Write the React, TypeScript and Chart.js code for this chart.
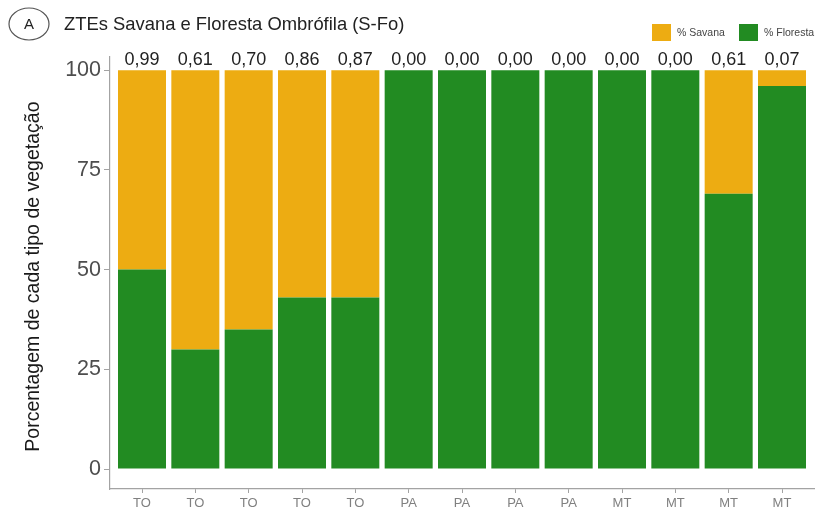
import React, { useEffect, useRef } from "react";
import { Chart, registerables } from "chart.js";

Chart.register(...registerables);

const FONT = "'Liberation Sans', Arial, Helvetica, sans-serif";

// Estados de cada ZTE
const categories = ["TO", "TO", "TO", "TO", "TO", "PA", "PA", "PA", "PA", "MT", "MT", "MT", "MT"];
// % Floresta (base da pilha)
const floresta = [50, 30, 35, 43, 43, 100, 100, 100, 100, 100, 100, 69, 96];
// % Savana (topo da pilha)
const savana = [50, 70, 65, 57, 57, 0, 0, 0, 0, 0, 0, 31, 4];
// Valores anotados sobre cada barra
const rotulos = ["0,99", "0,61", "0,70", "0,86", "0,87", "0,00", "0,00", "0,00", "0,00", "0,00", "0,00", "0,61", "0,07"];
const yTicks = [0, 25, 50, 75, 100];

const COR_SAVANA = "#EDAC12";
const COR_FLORESTA = "#228B22";
const COR_EIXO = "#a3a3a3";

const decoracoes = {
  id: "decoracoes",
  afterDraw(chart: any) {
    const ctx = chart.ctx as CanvasRenderingContext2D;
    const xs = chart.scales.x;
    const ys = chart.scales.y;
    ctx.save();

    // painel "A"
    ctx.beginPath();
    ctx.ellipse(29, 24, 20, 16, 0, 0, Math.PI * 2);
    ctx.strokeStyle = "#555";
    ctx.lineWidth = 1.2;
    ctx.stroke();
    ctx.fillStyle = "#222";
    ctx.font = `15px ${FONT}`;
    ctx.textAlign = "center";
    ctx.textBaseline = "middle";
    ctx.fillText("A", 29, 25);

    // título
    ctx.textAlign = "left";
    ctx.font = `18.4px ${FONT}`;
    ctx.fillText("ZTEs Savana e Floresta Ombrófila (S-Fo)", 64, 25);

    // legenda
    const legenda = [
      { cor: COR_SAVANA, texto: "% Savana", x: 652 },
      { cor: COR_FLORESTA, texto: "% Floresta", x: 739 },
    ];
    ctx.font = `10.5px ${FONT}`;
    for (const item of legenda) {
      ctx.fillStyle = item.cor;
      ctx.fillRect(item.x, 24, 19, 17);
      ctx.fillStyle = "#444";
      ctx.fillText(item.texto, item.x + 25, 33);
    }

    // rótulos sobre as barras
    ctx.textAlign = "center";
    ctx.font = `18px ${FONT}`;
    ctx.fillStyle = "#222";
    const yTopo = ys.getPixelForValue(100) - 10;
    rotulos.forEach((r, i) => {
      ctx.fillText(r, xs.getPixelForValue(i), yTopo);
    });

    // título do eixo y
    ctx.translate(34, (ys.getPixelForValue(0) + ys.getPixelForValue(100)) / 2 + 7);
    ctx.rotate(-Math.PI / 2);
    ctx.font = `19.5px ${FONT}`;
    ctx.fillStyle = "#1a1a1a";
    ctx.fillText("Porcentagem de cada tipo de vegetação", 0, 0);
    ctx.restore();
  },
};

export default function App() {
  const ref = useRef<HTMLCanvasElement>(null);

  useEffect(() => {
    if (!ref.current) return;
    const chart = new Chart(ref.current, {
      type: "bar",
      data: {
        datasets: [
          {
            label: "% Floresta",
            data: floresta.map((v, i) => ({ x: i, y: v })),
            backgroundColor: COR_FLORESTA,
            borderWidth: 0,
          },
          {
            label: "% Savana",
            data: savana.map((v, i) => ({ x: i, y: v })),
            backgroundColor: COR_SAVANA,
            borderWidth: 0,
          },
        ],
      },
      options: {
        animation: false,
        responsive: false,
        devicePixelRatio: 1,
        datasets: { bar: { barPercentage: 0.9, categoryPercentage: 1 } },
        layout: { padding: { top: 57, right: 5, left: 0, bottom: 0 } },
        plugins: { legend: { display: false }, tooltip: { enabled: false }, title: { display: false } },
        scales: {
          x: {
            type: "linear",
            stacked: true,
            min: -0.6,
            max: 12.6,
            offset: false,
            afterBuildTicks: (s: any) => {
              s.ticks = categories.map((_, i) => ({ value: i }));
            },
            afterFit: (s: any) => {
              s.height = 26;
            },
            ticks: {
              autoSkip: false,
              maxRotation: 0,
              padding: 3,
              color: "#808080",
              font: { family: FONT, size: 13 },
              callback: (v: any) => categories[Math.round(Number(v))] ?? "",
            },
            grid: { offset: false, drawOnChartArea: false, drawTicks: true, tickLength: 4, color: COR_EIXO },
            border: { display: true, color: COR_EIXO, width: 1.2 },
          },
          y: {
            type: "linear",
            stacked: true,
            min: -5,
            max: 103.3,
            afterBuildTicks: (s: any) => {
              s.ticks = yTicks.map((v) => ({ value: v }));
            },
            afterFit: (s: any) => {
              s.width = 110;
            },
            ticks: {
              padding: 3,
              color: "#4d4d4d",
              font: { family: FONT, size: 21.5 },
              callback: (v: any) => String(v),
            },
            grid: { drawOnChartArea: false, drawTicks: true, tickLength: 6, color: COR_EIXO },
            border: { display: true, color: COR_EIXO, width: 1.2 },
          },
        },
      },
      plugins: [decoracoes],
    });
    return () => chart.destroy();
  }, []);

  return (
    <div style={{ position: "fixed", left: 0, top: 0, width: 819, height: 515, background: "#fff" }}>
      <canvas ref={ref} width={819} height={515} style={{ display: "block", width: 819, height: 515 }} />
    </div>
  );
}
